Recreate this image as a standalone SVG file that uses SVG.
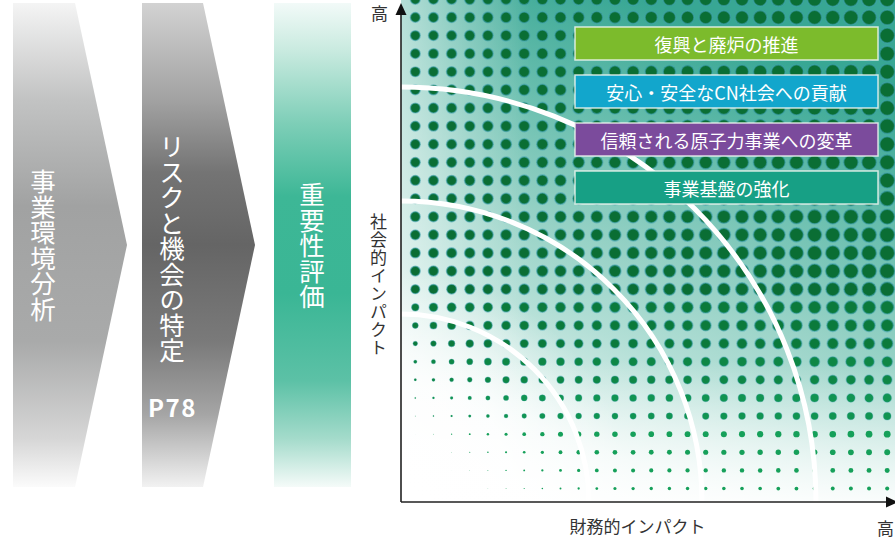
<svg xmlns="http://www.w3.org/2000/svg" xmlns:xlink="http://www.w3.org/1999/xlink" width="895" height="540" viewBox="0 0 895 540">
<style>
.d{--r:calc(7.5 * (0.65 + 0.35 * var(--u)) * min(1, 0.27 + 1.6 * var(--v)) * clamp(0, (var(--u) + var(--v) - 0.1) * 3, 1));r:calc(var(--r) * 1px);stroke-width:calc(min(1.6, var(--r) * 0.3) * 1px)}
.cjk{font-family:"Noto Sans CJK JP","Noto Sans",sans-serif}
.vt{writing-mode:vertical-rl;font-size:25.5px;fill:#fff}
.lb{font-size:18px;fill:#fff;text-anchor:middle;dominant-baseline:central}
.box{stroke:#eef6f0;stroke-opacity:.85;stroke-width:1.5}
.arc{fill:none;stroke:#fff;stroke-width:5}
.ax{fill:#333;font-size:17px}
</style>
<defs>
<linearGradient id="g1" gradientUnits="userSpaceOnUse" x1="0" y1="3" x2="0" y2="487">
<stop offset="0" stop-color="#f4f4f4"/><stop offset=".2" stop-color="#c2c3c3"/><stop offset=".42" stop-color="#a1a2a2"/><stop offset=".7" stop-color="#a9aaaa"/><stop offset=".9" stop-color="#d6d6d6"/><stop offset="1" stop-color="#fbfbfb"/>
</linearGradient>
<linearGradient id="g2" gradientUnits="userSpaceOnUse" x1="0" y1="3" x2="0" y2="487">
<stop offset="0" stop-color="#d2d2d2"/><stop offset=".2" stop-color="#a2a2a2"/><stop offset=".35" stop-color="#747474"/><stop offset=".5" stop-color="#656565"/><stop offset=".7" stop-color="#7a7a7a"/><stop offset=".85" stop-color="#a5a5a5"/><stop offset="1" stop-color="#f2f2f2"/>
</linearGradient>
<linearGradient id="g3" gradientUnits="userSpaceOnUse" x1="0" y1="3" x2="0" y2="487">
<stop offset="0" stop-color="#f2faf8"/><stop offset=".1" stop-color="#c8eadf"/><stop offset=".25" stop-color="#7dceb7"/><stop offset=".4" stop-color="#3db796"/><stop offset=".6" stop-color="#3ab695"/><stop offset=".78" stop-color="#5cc1a6"/><stop offset=".9" stop-color="#a4dbcb"/><stop offset="1" stop-color="#f5fbf9"/>
</linearGradient>
<linearGradient id="bg" gradientUnits="userSpaceOnUse" x1="440" y1="502" x2="640" y2="0">
<stop offset="0" stop-color="#ffffff"/><stop offset=".2" stop-color="#e6f4f1"/><stop offset=".4" stop-color="#b3dfd6"/><stop offset=".55" stop-color="#97d2c6"/><stop offset=".75" stop-color="#6cc0b0"/><stop offset="1" stop-color="#38a794"/>
</linearGradient>
<linearGradient id="lf" gradientUnits="userSpaceOnUse" x1="401" y1="0" x2="530" y2="0">
<stop offset="0" stop-color="#fff" stop-opacity=".55"/><stop offset="1" stop-color="#fff" stop-opacity="0"/>
</linearGradient>
<linearGradient id="bf" gradientUnits="userSpaceOnUse" x1="0" y1="360" x2="0" y2="502">
<stop offset="0" stop-color="#fff" stop-opacity="0"/><stop offset="1" stop-color="#fff" stop-opacity=".9"/>
</linearGradient>
<radialGradient id="rf" gradientUnits="userSpaceOnUse" cx="401" cy="502" r="230">
<stop offset="0" stop-color="#fff" stop-opacity="1"/><stop offset=".5" stop-color="#fff" stop-opacity=".8"/><stop offset="1" stop-color="#fff" stop-opacity="0"/>
</radialGradient>
<g id="row">
<circle class="d" cx="415.3" style="--u:0"/>
<circle class="d" cx="433.45" style="--u:.0385"/>
<circle class="d" cx="451.6" style="--u:.0769"/>
<circle class="d" cx="469.75" style="--u:.1154"/>
<circle class="d" cx="487.9" style="--u:.1538"/>
<circle class="d" cx="506.05" style="--u:.1923"/>
<circle class="d" cx="524.2" style="--u:.2308"/>
<circle class="d" cx="542.35" style="--u:.2692"/>
<circle class="d" cx="560.5" style="--u:.3077"/>
<circle class="d" cx="578.65" style="--u:.3462"/>
<circle class="d" cx="596.8" style="--u:.3846"/>
<circle class="d" cx="614.95" style="--u:.4231"/>
<circle class="d" cx="633.1" style="--u:.4615"/>
<circle class="d" cx="651.25" style="--u:.5"/>
<circle class="d" cx="669.4" style="--u:.5385"/>
<circle class="d" cx="687.55" style="--u:.5769"/>
<circle class="d" cx="705.7" style="--u:.6154"/>
<circle class="d" cx="723.85" style="--u:.6538"/>
<circle class="d" cx="742" style="--u:.6923"/>
<circle class="d" cx="760.15" style="--u:.7308"/>
<circle class="d" cx="778.3" style="--u:.7692"/>
<circle class="d" cx="796.45" style="--u:.8077"/>
<circle class="d" cx="814.6" style="--u:.8462"/>
<circle class="d" cx="832.75" style="--u:.8846"/>
<circle class="d" cx="850.9" style="--u:.9231"/>
<circle class="d" cx="869.05" style="--u:.9615"/>
<circle class="d" cx="887.2" style="--u:1"/>
</g>
</defs>
<rect width="895" height="540" fill="#fff"/>
<g id="step1">
<polygon points="13,3 75,3 127,245 75,487 13,487" fill="url(#g1)"/>
<text class="cjk vt" x="43" y="169">事業環境分析</text>
</g>
<g id="step2">
<polygon points="142,3 203,3 255,245 203,487 142,487" fill="url(#g2)"/>
<text class="cjk vt" x="172" y="134">リスクと機会の特定</text>
<text class="cjk" x="148" y="417" font-size="24" font-weight="bold" letter-spacing="1.5" fill="#fff">P78</text>
</g>
<g id="step3">
<rect x="274" y="3" width="77" height="484" fill="url(#g3)"/>
<text class="cjk vt" x="312" y="182">重要性評価</text>
</g>
<g id="chart">
<rect x="401" y="0" width="494" height="502" fill="url(#bg)"/>
<rect x="401" y="0" width="130" height="502" fill="url(#lf)"/>
<rect x="401" y="260" width="260" height="242" fill="url(#rf)"/>
<rect x="401" y="360" width="494" height="142" fill="url(#bf)"/>
<g id="dots" stroke="#3fa3b3">
<use href="#row" y="-0.72" style="--v:1" fill="#0a6e34" stroke-opacity=".55"/>
<use href="#row" y="17.4" style="--v:1" fill="#0a6e34" stroke-opacity=".55"/>
<use href="#row" y="35.52" style="--v:.9615" fill="#0a6e34" stroke-opacity=".55"/>
<use href="#row" y="53.64" style="--v:.9231" fill="#0a6e34" stroke-opacity=".55"/>
<use href="#row" y="71.76" style="--v:.8846" fill="#0a6e34" stroke-opacity=".55"/>
<use href="#row" y="89.88" style="--v:.8462" fill="#0a6e34" stroke-opacity=".55"/>
<use href="#row" y="108" style="--v:.8077" fill="#0a6e34" stroke-opacity=".55"/>
<use href="#row" y="126.12" style="--v:.7692" fill="#0a6e34" stroke-opacity=".55"/>
<use href="#row" y="144.24" style="--v:.7308" fill="#0a6e34" stroke-opacity=".55"/>
<use href="#row" y="162.36" style="--v:.6923" fill="#0a6e34" stroke-opacity=".55"/>
<use href="#row" y="180.48" style="--v:.6538" fill="#0a6e34" stroke-opacity=".55"/>
<use href="#row" y="198.6" style="--v:.6154" fill="#0a6e34" stroke-opacity=".55"/>
<use href="#row" y="216.72" style="--v:.5769" fill="#0a6e34" stroke-opacity=".55"/>
<use href="#row" y="234.84" style="--v:.5385" fill="#0a6e34" stroke-opacity=".55"/>
<use href="#row" y="252.96" style="--v:.5" fill="#0a6e34" stroke-opacity=".55"/>
<use href="#row" y="271.08" style="--v:.4615" fill="#0a6e34" stroke-opacity=".55"/>
<use href="#row" y="289.2" style="--v:.4231" fill="#0a6e34" stroke-opacity=".55"/>
<use href="#row" y="307.32" style="--v:.3846" fill="#0b7a3b" stroke-opacity=".5"/>
<use href="#row" y="325.44" style="--v:.3462" fill="#0b7a3b" stroke-opacity=".5"/>
<use href="#row" y="343.56" style="--v:.3077" fill="#0b7a3b" stroke-opacity=".5"/>
<use href="#row" y="361.68" style="--v:.2692" fill="#0e8745" stroke-opacity=".4"/>
<use href="#row" y="379.8" style="--v:.2308" fill="#0e8745" stroke-opacity=".4"/>
<use href="#row" y="397.92" style="--v:.1923" fill="#119451" stroke-opacity=".3"/>
<use href="#row" y="416.04" style="--v:.1538" fill="#119451" stroke-opacity=".3"/>
<use href="#row" y="434.16" style="--v:.1154" fill="#16a05a" stroke-opacity="0"/>
<use href="#row" y="452.28" style="--v:.0769" fill="#16a05a" stroke-opacity="0"/>
<use href="#row" y="470.4" style="--v:.0385" fill="#16a05a" stroke-opacity="0"/>
<use href="#row" y="488.52" style="--v:0" fill="#16a05a" stroke-opacity="0"/>
</g>
<g id="arcs">
<path class="arc" d="M401,314 A188,188 0 0 1 589,502"/>
<path class="arc" d="M401,201 A301,301 0 0 1 702,502"/>
<path class="arc" d="M401,87 A415,415 0 0 1 816,502"/>
</g>
</g>
<g id="legend1"><rect class="box" x="575" y="27" width="303" height="33" fill="#7cbb2c"/><text class="cjk lb" x="726.5" y="43.5">復興と廃炉の推進</text></g>
<g id="legend2"><rect class="box" x="575" y="75" width="303" height="33" fill="#12a6cc"/><text class="cjk lb" x="726.5" y="91.5">安心・安全なCN社会への貢献</text></g>
<g id="legend3"><rect class="box" x="575" y="123" width="303" height="33" fill="#7b4b9c"/><text class="cjk lb" x="726.5" y="139.5">信頼される原子力事業への変革</text></g>
<g id="legend4"><rect class="box" x="575" y="171" width="303" height="33" fill="#17a085"/><text class="cjk lb" x="726.5" y="187.5">事業基盤の強化</text></g>
<g id="axes">
<path d="M401,502 V12 M401,502 H888" fill="none" stroke="#222" stroke-width="1.6"/>
<polygon points="401,3 395.5,15 406.5,15" fill="#111"/>
<polygon points="898,502 886,496.5 886,507.5" fill="#111"/>
<text class="cjk ax" x="379.5" y="20" text-anchor="middle">高</text>
<text class="cjk ax" x="877" y="535" font-size="16">高</text>
<text class="cjk ax" x="637.5" y="533" text-anchor="middle">財務的インパクト</text>
<text class="cjk ax" x="378.5" y="213" style="writing-mode:vertical-rl" letter-spacing="1">社会的インパクト</text>
</g>
</svg>
